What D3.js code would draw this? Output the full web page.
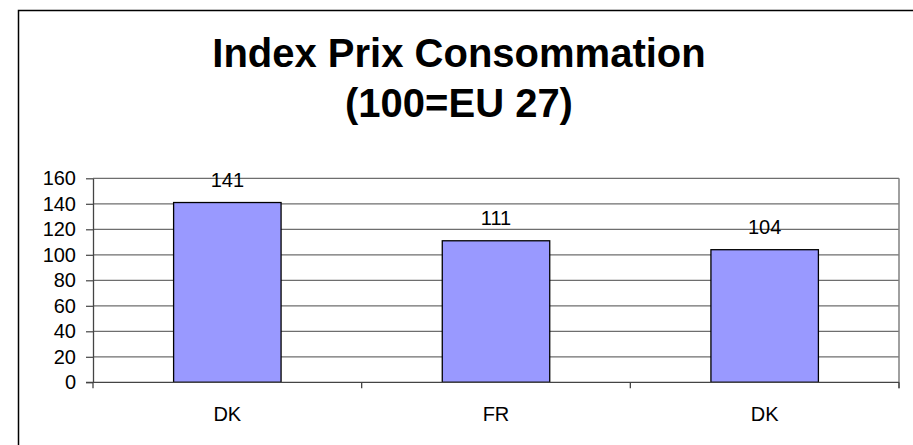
<!DOCTYPE html>
<html>
<head>
<meta charset="utf-8">
<script src="https://cdn.jsdelivr.net/npm/d3@7"></script>
<style>
    body { margin: 0; background: #fff; }
    svg { display: block; font-family: "Liberation Sans", Arial, sans-serif; }
</style>
</head>
<body>
<div id="chart"></div>
<script>
// chart data
const categories = ["DK", "FR", "DK"];
const values = [141, 111, 104];
const yTicks = [0, 20, 40, 60, 80, 100, 120, 140, 160];
const titleLines = ["Index Prix Consommation", "(100=EU 27)"];

const width = 913, height = 445;
const plot = { left: 93, right: 899, top: 178.3, bottom: 382.3 };

const svg = d3.select("#chart").append("svg")
    .attr("width", width)
    .attr("height", height);

// outer frame of the chart object (runs off the page on the right and bottom)
svg.append("rect")
    .attr("x", 18.5)
    .attr("y", 10.5)
    .attr("width", 1000)
    .attr("height", 1000)
    .attr("fill", "#fff")
    .attr("stroke", "#000")
    .attr("stroke-width", 1.5);

// title, two centred lines
svg.append("g")
    .selectAll("text")
    .data(titleLines)
    .enter().append("text")
    .attr("x", 459)
    .attr("y", (d, i) => 67 + i * 50)
    .attr("text-anchor", "middle")
    .attr("font-size", 40)
    .attr("font-weight", "bold")
    .text(d => d);

const x = d3.scaleBand()
    .domain(d3.range(categories.length))
    .range([plot.left, plot.right])
    .paddingInner(0.6)
    .paddingOuter(0.3);

// category boundaries for the tick marks under the axis
const xEdge = d3.scaleLinear()
    .domain([0, categories.length])
    .range([plot.left, plot.right]);

const y = d3.scaleLinear()
    .domain([0, 160])
    .range([plot.bottom, plot.top]);

// horizontal gridlines
svg.append("g")
    .selectAll("line")
    .data(yTicks.slice(1))
    .enter().append("line")
    .attr("x1", plot.left)
    .attr("x2", plot.right)
    .attr("y1", d => y(d))
    .attr("y2", d => y(d))
    .attr("stroke", "#6e6e6e")
    .attr("stroke-width", 1.2);

// right border of the plot area
svg.append("line")
    .attr("x1", plot.right)
    .attr("x2", plot.right)
    .attr("y1", plot.top)
    .attr("y2", plot.bottom + 6)
    .attr("stroke", "#808080")
    .attr("stroke-width", 1.5);

// y axis
const yAxis = svg.append("g")
    .attr("transform", `translate(${plot.left},0)`)
    .call(d3.axisLeft(y).tickValues(yTicks).tickSize(7).tickPadding(10).tickSizeOuter(0));
yAxis.select(".domain").attr("stroke", "#444").attr("stroke-width", 1.3);
yAxis.selectAll(".tick line").attr("stroke", "#444").attr("stroke-width", 1.2);
yAxis.selectAll(".tick text")
    .attr("font-family", "Liberation Sans, Arial, sans-serif")
    .attr("font-size", 20)
    .attr("fill", "#000");

// bars
svg.append("g")
    .selectAll("rect")
    .data(values)
    .enter().append("rect")
    .attr("x", (d, i) => x(i))
    .attr("y", d => y(d))
    .attr("width", x.bandwidth())
    .attr("height", d => y(0) - y(d))
    .attr("fill", "#9999ff")
    .attr("stroke", "#000")
    .attr("stroke-width", 1.3);

// x axis line and category ticks
svg.append("line")
    .attr("x1", plot.left - 7)
    .attr("x2", plot.right)
    .attr("y1", y(0))
    .attr("y2", y(0))
    .attr("stroke", "#444")
    .attr("stroke-width", 1.3);

svg.append("g")
    .selectAll("line")
    .data(d3.range(categories.length + 1))
    .enter().append("line")
    .attr("x1", d => xEdge(d))
    .attr("x2", d => xEdge(d))
    .attr("y1", y(0))
    .attr("y2", y(0) + 6)
    .attr("stroke", "#444")
    .attr("stroke-width", 1.3);

// category labels
svg.append("g")
    .selectAll("text")
    .data(categories)
    .enter().append("text")
    .attr("x", (d, i) => x(i) + x.bandwidth() / 2)
    .attr("y", 421)
    .attr("text-anchor", "middle")
    .attr("font-size", 20)
    .text(d => d);

// value labels above the bars
svg.append("g")
    .selectAll("text")
    .data(values)
    .enter().append("text")
    .attr("x", (d, i) => x(i) + x.bandwidth() / 2)
    .attr("y", d => y(d) - 16)
    .attr("text-anchor", "middle")
    .attr("font-size", 20)
    .text(d => d);
</script>
</body>
</html>
